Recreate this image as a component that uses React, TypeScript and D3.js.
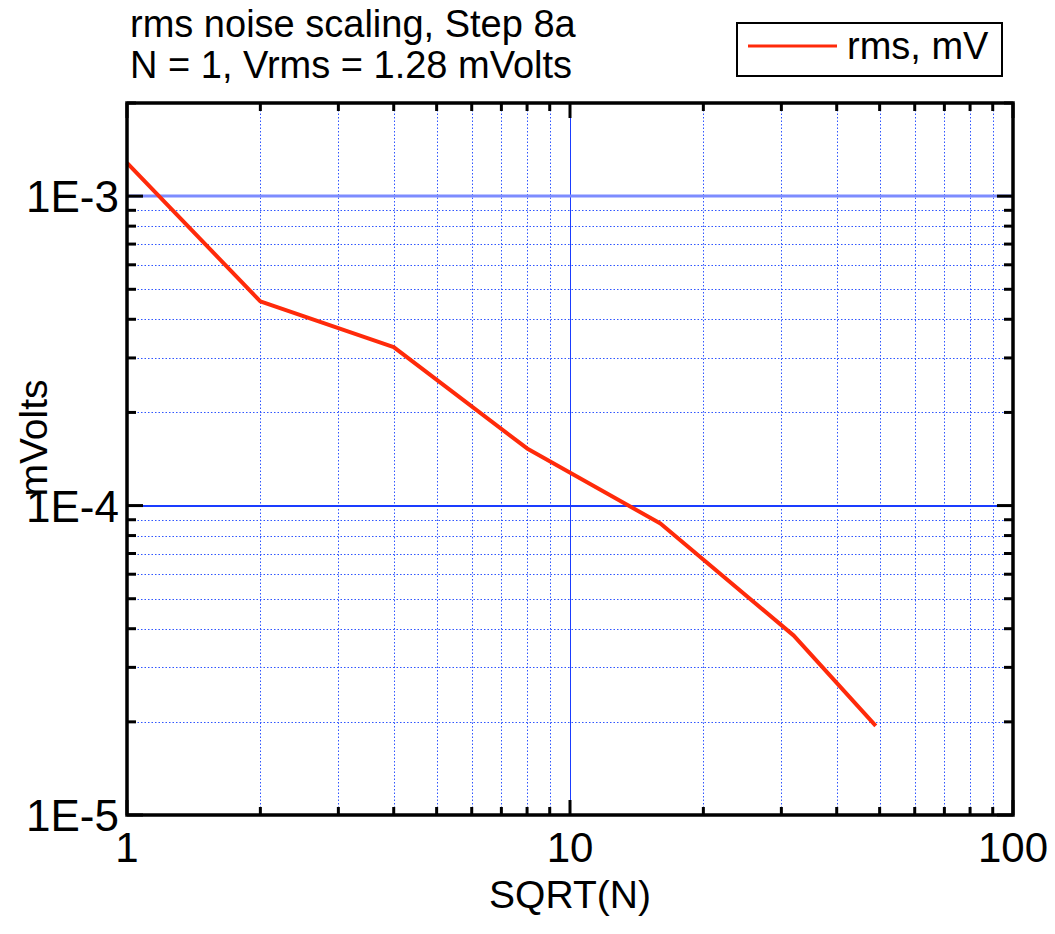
import React, { useEffect, useRef } from 'react';
import * as d3 from 'd3';

const sqrtN = [1, 2, 4, 8, 16, 32, 49];
const rmsValues = [1.28e-3, 4.57e-4, 3.25e-4, 1.53e-4, 8.75e-5, 3.8e-5, 1.94e-5];
const xTickLabels = ['1', '10', '100'];
const yTickLabels = ['1E-5', '1E-4', '1E-3'];
const titleLines = ['rms noise scaling, Step 8a', 'N = 1, Vrms = 1.28 mVolts'];
const seriesName = 'rms, mV';

const W = 1055;
const H = 934;
const margin = { top: 103, right: 42, bottom: 119, left: 127 };

export default function App() {
  const ref = useRef<SVGSVGElement>(null);

  useEffect(() => {
    const svg = d3.select(ref.current);
    svg.selectAll('*').remove();
    const font = 'Liberation Sans, Arial, sans-serif';

    const x = d3.scaleLog().domain([1, 100]).range([margin.left, W - margin.right]);
    const y = d3.scaleLog().domain([1e-5, 2e-3]).range([H - margin.bottom, margin.top]);
    const [x0, x1] = x.range();
    const [y0, y1] = y.range();

    const xMajor = [1, 10, 100];
    const yMajor = [1e-5, 1e-4, 1e-3];
    const xMinor: number[] = [];
    [1, 10].forEach(d => { for (let k = 2; k <= 9; k++) xMinor.push(d * k); });
    const yMinor: number[] = [];
    [1e-5, 1e-4, 1e-3].forEach(d => {
      for (let k = 2; k <= 9; k++) if (d * k <= 2e-3) yMinor.push(d * k);
    });

    const g = svg.append('g');

    // minor grid, dotted
    g.selectAll('.vminor').data(xMinor).enter().append('line')
      .attr('x1', d => Math.round(x(d)) + 0.5).attr('x2', d => Math.round(x(d)) + 0.5)
      .attr('y1', y1).attr('y2', y0)
      .attr('stroke', '#2f55ff').attr('stroke-width', 1)
      .attr('stroke-dasharray', '1.5,2');
    g.selectAll('.hminor').data(yMinor).enter().append('line')
      .attr('x1', x0).attr('x2', x1)
      .attr('y1', d => Math.round(y(d)) + 0.5).attr('y2', d => Math.round(y(d)) + 0.5)
      .attr('stroke', '#2f55ff').attr('stroke-width', 1)
      .attr('stroke-dasharray', '1.5,2');

    // major grid
    g.append('line')
      .attr('x1', Math.round(x(10)) + 0.5).attr('x2', Math.round(x(10)) + 0.5).attr('y1', y1).attr('y2', y0)
      .attr('stroke', '#1a3cff').attr('stroke-width', 1);
    g.append('line')
      .attr('x1', x0).attr('x2', x1).attr('y1', Math.round(y(1e-4))).attr('y2', Math.round(y(1e-4)))
      .attr('stroke', '#1a3cff').attr('stroke-width', 2);
    g.append('line')
      .attr('x1', x0).attr('x2', x1).attr('y1', Math.round(y(1e-3))).attr('y2', Math.round(y(1e-3)))
      .attr('stroke', '#7d8cff').attr('stroke-width', 3);

    // data line
    const line = d3.line<number>()
      .x((_, i) => x(sqrtN[i]))
      .y(d => y(d));
    g.append('path')
      .datum(rmsValues)
      .attr('d', line)
      .attr('fill', 'none')
      .attr('stroke', '#ff2a0a')
      .attr('stroke-width', 4)
      .attr('stroke-linejoin', 'round');

    // ticks on all four sides, pointing inward
    const tick = (x1t: number, y1t: number, x2t: number, y2t: number) =>
      g.append('line').attr('x1', x1t).attr('y1', y1t).attr('x2', x2t).attr('y2', y2t)
        .attr('stroke', '#000').attr('stroke-width', 3);
    xMinor.forEach(d => { tick(x(d), y0, x(d), y0 - 8); tick(x(d), y1, x(d), y1 + 8); });
    xMajor.forEach(d => { tick(x(d), y0, x(d), y0 - 15); tick(x(d), y1, x(d), y1 + 15); });
    yMinor.forEach(d => { tick(x0, y(d), x0 + 9, y(d)); tick(x1, y(d), x1 - 9, y(d)); });
    yMajor.forEach(d => { tick(x0, y(d), x0 + 16, y(d)); tick(x1, y(d), x1 - 16, y(d)); });

    // frame
    g.append('rect')
      .attr('x', x0).attr('y', y1).attr('width', x1 - x0).attr('height', y0 - y1)
      .attr('fill', 'none').attr('stroke', '#000').attr('stroke-width', 3.5);

    // tick labels
    g.selectAll('.xl').data(xMajor).enter().append('text')
      .attr('x', d => x(d)).attr('y', y0 + 47)
      .attr('text-anchor', 'middle')
      .style('font-family', font).style('font-size', '42px')
      .text((_, i) => xTickLabels[i]);
    g.selectAll('.yl').data(yMajor).enter().append('text')
      .attr('x', x0 - 8).attr('y', d => y(d) + 16)
      .attr('text-anchor', 'end')
      .style('font-family', font).style('font-size', '44px')
      .text((_, i) => yTickLabels[i]);

    // axis titles
    g.append('text')
      .attr('x', x(10)).attr('y', 908)
      .attr('text-anchor', 'middle')
      .style('font-family', font).style('font-size', '39px')
      .text('SQRT(N)');
    g.append('text')
      .attr('transform', `translate(47, 438) rotate(-90)`)
      .attr('text-anchor', 'middle')
      .style('font-family', font).style('font-size', '39px')
      .text('mVolts');

    // title
    titleLines.forEach((t, i) => {
      g.append('text')
        .attr('x', 130).attr('y', 37 + i * 41)
        .style('font-family', font).style('font-size', '38px')
        .text(t);
    });

    // legend
    const lg = g.append('g');
    lg.append('rect')
      .attr('x', 737).attr('y', 23).attr('width', 265).attr('height', 53)
      .attr('fill', '#fff').attr('stroke', '#000').attr('stroke-width', 2);
    lg.append('line')
      .attr('x1', 748).attr('x2', 837).attr('y1', 46).attr('y2', 46)
      .attr('stroke', '#ff2a0a').attr('stroke-width', 3);
    lg.append('text')
      .attr('x', 847).attr('y', 59)
      .style('font-family', font).style('font-size', '38px')
      .text(seriesName);
  }, []);

  return (
    <svg ref={ref} width={W} height={H}
      style={{ position: 'absolute', left: 0, top: 0, background: '#fff' }} />
  );
}
